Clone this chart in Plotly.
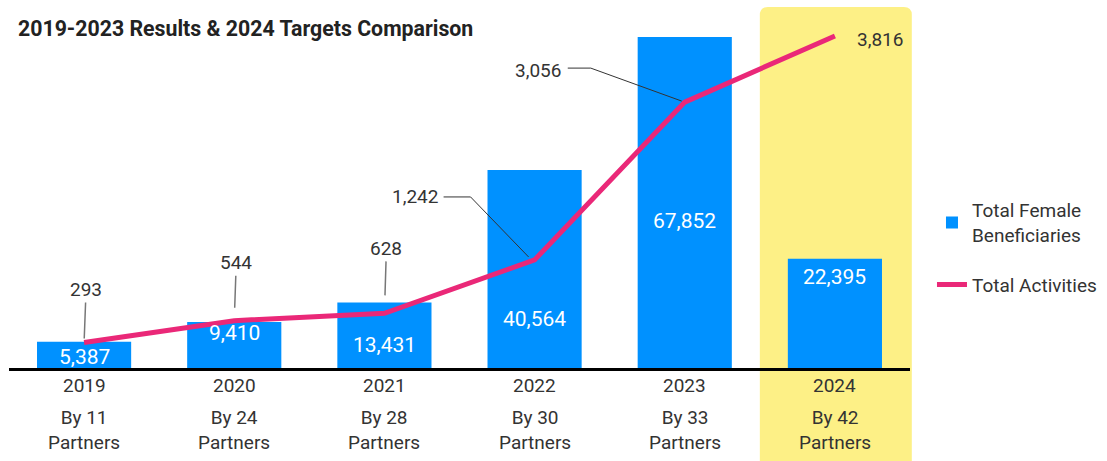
import plotly.graph_objects as go

years = ["2019", "2020", "2021", "2022", "2023", "2024"]
partners = ["By 11<br>Partners", "By 24<br>Partners", "By 28<br>Partners",
            "By 30<br>Partners", "By 33<br>Partners", "By 42<br>Partners"]
beneficiaries = [5387, 9410, 13431, 40564, 67852, 22395]
activities = [293, 544, 628, 1242, 3056, 3816]

BLUE = "#0091FF"
PINK = "#EA2878"
YELLOW = "#FDF086"
FONT = "Roboto"

x_idx = list(range(len(years)))
y1max = max(beneficiaries) * 1.0211
y2max = max(activities) * 1.018

fig = go.Figure()
fig.add_trace(go.Bar(
    x=x_idx, y=beneficiaries, name="Total Female<br>Beneficiaries",
    marker=dict(color=BLUE, line=dict(width=0)), yaxis="y", legendgroup="a",
))
fig.add_trace(go.Scatter(
    x=x_idx, y=activities, name="Total Activities", mode="lines",
    line=dict(color=PINK, width=5), yaxis="y2", legendgroup="b",
))

annotations = []
# bar value labels (white, inside bars), vertical placement in pixels from baseline
label_px = [11, 35, 23, 49, 147, 91]
for i, v in enumerate(beneficiaries):
    annotations.append(dict(
        x=i, y=0, xref="x", yref="y", text=f"{v:,}", showarrow=False,
        yshift=label_px[i], font=dict(family=FONT, size=21, color="white"),
        yanchor="middle",
    ))

# year labels and partner sub-labels
for i, t in enumerate(years):
    annotations.append(dict(
        x=i, y=0, xref="x", yref="paper", text=t, showarrow=False,
        yshift=-17, yanchor="middle",
        font=dict(family=FONT, size=19, color="#333333"),
    ))
for i, t in enumerate(partners):
    annotations.append(dict(
        x=i, y=0, xref="x", yref="paper", text=t, showarrow=False,
        yshift=-62, yanchor="middle",
        font=dict(family=FONT, size=19, color="#333333"),
    ))

# vertical gray leaders for first three
lead_cfg = {0: (-53, 4), 1: (-58, 13), 2: (-65, 18)}
for i in range(3):
    ay, so = lead_cfg[i]
    annotations.append(dict(
        x=i, y=activities[i], xref="x", yref="y2", text=f"{activities[i]:,}",
        showarrow=True, arrowhead=0, arrowwidth=1.5, arrowcolor="#777777",
        ax=2, ay=ay, standoff=so,
        font=dict(family=FONT, size=19, color="#333333"),
    ))
# elbow labels
elbow_cfg = {3: (-120, 63), 4: (-147, 32)}
for i, (dx, dy) in elbow_cfg.items():
    annotations.append(dict(
        x=i, y=activities[i], xref="x", yref="y2", text=f"{activities[i]:,}",
        showarrow=False, xshift=dx, yshift=dy,
        font=dict(family=FONT, size=19, color="#333333"),
    ))
# last point label
annotations.append(dict(
    x=5, y=activities[5], xref="x", yref="y2", text=f"{activities[5]:,}",
    showarrow=False, xshift=45, yshift=-4,
    font=dict(family=FONT, size=19, color="#333333"),
))

rx, ry = 0.0089, 0.0237
x0, x1, yt, yb = 5/6, 1.002, 1.068, -0.30
shapes = [
    dict(type="path", xref="paper", yref="paper", layer="below",
         path=(f"M {x0},{yb} L {x0},{yt-ry} Q {x0},{yt} {x0+rx},{yt} "
               f"L {x1-rx},{yt} Q {x1},{yt} {x1},{yt-ry} L {x1},{yb} Z"),
         fillcolor=YELLOW, line=dict(width=0)),
    dict(type="path", xref="x", yref="y2", xsizemode="pixel", ysizemode="pixel",
         xanchor=3, yanchor=activities[3],
         path="M -91,63 L -64,63 L -6,3", line=dict(color="#333333", width=1)),
    dict(type="path", xref="x", yref="y2", xsizemode="pixel", ysizemode="pixel",
         xanchor=4, yanchor=activities[4],
         path="M -117,34 L -94,34 L -3,1", line=dict(color="#333333", width=1)),
]

fig.update_layout(
    width=1107, height=461,
    margin=dict(l=9, r=197, t=30, b=93, autoexpand=False),
    paper_bgcolor="white", plot_bgcolor="rgba(0,0,0,0)",
    bargap=0.373,
    title=dict(text="<b>2019-2023 Results & 2024 Targets Comparison</b>",
               x=18/1107, xref="container", xanchor="left",
               y=1-29/461, yref="container", yanchor="middle",
               font=dict(family=FONT, size=21.3, color="#222222")),
    font=dict(family=FONT, color="#333333"),
    xaxis=dict(tickmode="array", tickvals=x_idx, ticktext=years,
               showticklabels=False,
               range=[-0.5, 5.5], showgrid=False, zeroline=False,
               showline=True, linecolor="black", linewidth=2.5,
               ticks="", fixedrange=True),
    yaxis=dict(range=[0, y1max], visible=False, showgrid=False, zeroline=False),
    yaxis2=dict(range=[0, y2max], overlaying="y", visible=False,
                showgrid=False, zeroline=False),
    legend=dict(x=1.0244, xanchor="left", y=0.523, yanchor="top",
                font=dict(family=FONT, size=19, color="#333333"),
                tracegroupgap=22, itemsizing="constant", itemwidth=30),
    annotations=annotations,
    shapes=shapes,
    showlegend=True,
)

fig.write_html("out.html", config={"displayModeBar": False},
               post_script="document.body.style.margin='0';")
